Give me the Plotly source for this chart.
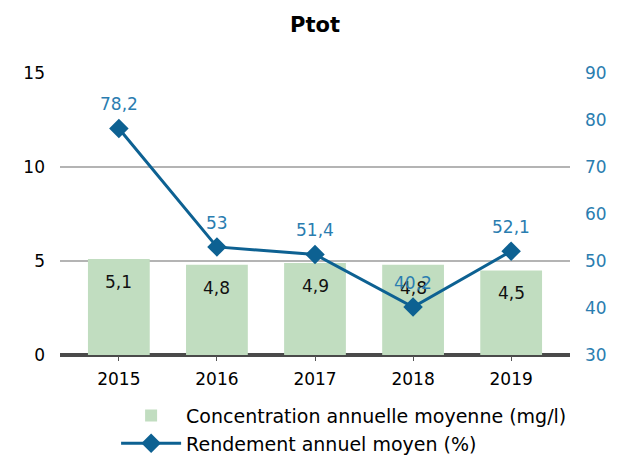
import plotly.graph_objects as go

years = ["2015", "2016", "2017", "2018", "2019"]
concentration = [5.1, 4.8, 4.9, 4.8, 4.5]
rendement = [78.2, 53, 51.4, 40.2, 52.1]
left_ticks = [0, 5, 10, 15]
right_ticks = [30, 40, 50, 60, 70, 80, 90]

FONT = "DejaVu Sans"
BAR = "#c1ddc0"
LINE = "#0d6192"
BLUE_TXT = "#2a7db0"

def fr(v):
    s = ("%g" % v)
    return s.replace(".", ",")

xs = list(range(len(years)))

fig = go.Figure()
fig.add_trace(go.Bar(
    x=xs, y=concentration, width=0.63, marker=dict(color=BAR, line=dict(width=0)),
    name="Concentration annuelle moyenne (mg/l)", yaxis="y", hoverinfo="skip",
))
fig.add_trace(go.Scatter(
    x=xs, y=rendement, mode="lines+markers", yaxis="y2",
    line=dict(color=LINE, width=3),
    marker=dict(symbol="diamond", size=15, color=LINE),
    name="Rendement annuel moyen (%)",
))

annotations = []
for x, v in zip(xs, concentration):
    annotations.append(dict(x=x, y=v, xref="x", yref="y", text=fr(v), showarrow=False,
                            yshift=-23, font=dict(family=FONT, size=17, color="#111111")))
for x, v in zip(xs, rendement):
    annotations.append(dict(x=x, y=v, xref="x", yref="y2", text=fr(v), showarrow=False,
                            yshift=24, font=dict(family=FONT, size=17, color=BLUE_TXT)))

fig.update_layout(
    width=626, height=459,
    margin=dict(l=52, r=64, t=65, b=112, autoexpand=False),
    paper_bgcolor="white", plot_bgcolor="white",
    title=dict(text="<b>Ptot</b>", x=0.5, xref="paper", xanchor="center", y=0.963, yanchor="middle",
               font=dict(family=FONT, size=21, color="black")),
    font=dict(family=FONT, size=17, color="black"),
    separators=", ",
    showlegend=True,
    legend=dict(orientation="v", x=0.11, xanchor="left", y=-0.148, yanchor="top",
                font=dict(family=FONT, size=19, color="black"), tracegroupgap=0,
                itemwidth=60, bgcolor="rgba(0,0,0,0)"),
    xaxis=dict(range=[-0.6, 4.6], tickmode="array", tickvals=xs, ticktext=years,
               showgrid=False, zeroline=False, showline=False,
               ticks="outside", ticklen=5, tickcolor="#555555", ticklabelstandoff=4,
               tickfont=dict(family=FONT, size=17, color="black")),
    yaxis=dict(range=[0, 15], tickmode="array", tickvals=left_ticks,
               showgrid=True, gridcolor="#b4b4b4", gridwidth=2,
               zeroline=True, zerolinecolor="#4a4a4a", zerolinewidth=4,
               showline=False, ticks="", ticklabelstandoff=14,
               tickfont=dict(family=FONT, size=17, color="black")),
    yaxis2=dict(range=[30, 90], tickmode="array", tickvals=right_ticks,
                overlaying="y", side="right", showgrid=False, zeroline=False,
                showline=False, ticks="", ticklabelstandoff=14,
                tickfont=dict(family=FONT, size=17, color=BLUE_TXT)),
    annotations=annotations,
    bargap=0.37,
)

fig.write_html("out.html")
